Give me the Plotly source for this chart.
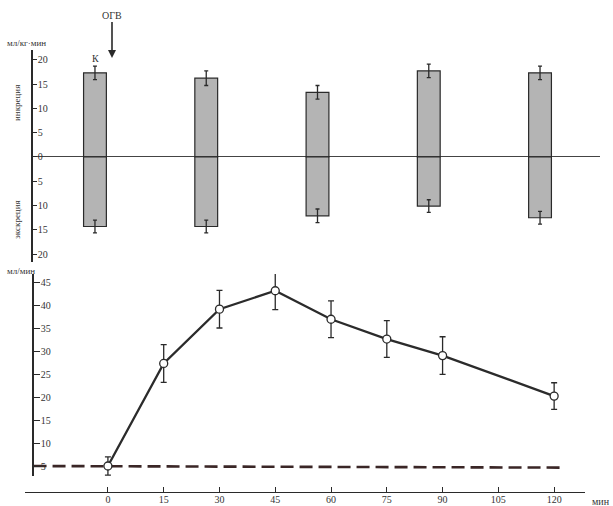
import plotly.graph_objects as go

# ---- data ----
bar_positions = [0, 1, 2, 3, 4]
incretion = [17.3, 16.2, 13.3, 17.7, 17.3]
incretion_err = [1.4, 1.5, 1.4, 1.4, 1.4]
excretion = [14.3, 14.3, 12.1, 10.1, 12.5]
excretion_err = [1.3, 1.3, 1.4, 1.3, 1.3]

top_tick_vals = [20, 15, 10, 5, 0, -5, -10, -15, -20]
top_tick_text = ["20", "15", "10", "5", "0", "5", "10", "15", "20"]

time_min = [0, 15, 30, 45, 60, 75, 90, 120]
flow = [5.0, 27.3, 39.1, 43.1, 36.9, 32.6, 29.0, 20.2]
flow_err = [2.0, 4.1, 4.1, 4.1, 4.0, 4.0, 4.1, 2.9]

baseline_x = [-20, 123]
baseline_y = [5.0, 4.65]

x_ticks = [0, 15, 30, 45, 60, 75, 90, 105, 120]
y2_ticks = [5, 10, 15, 20, 25, 30, 35, 40, 45]

# ---- geometry helpers ----
W, H = 613, 506
def px_x(p):
    return p / W
def px_y(p):
    return 1 - p / H

FONT = "Liberation Serif"
INK = "#2a2a2a"

fig = go.Figure()

# top panel bars
fig.add_trace(go.Bar(
    x=bar_positions, y=incretion, base=0, width=0.205,
    marker=dict(color="#b4b4b4", line=dict(color=INK, width=1.2)),
    error_y=dict(type="data", array=incretion_err, visible=True,
                 color=INK, thickness=1.3, width=2),
    xaxis="x", yaxis="y", showlegend=False))
fig.add_trace(go.Bar(
    x=bar_positions, y=[-v for v in excretion], base=0, width=0.205,
    marker=dict(color="#b4b4b4", line=dict(color=INK, width=1.2)),
    error_y=dict(type="data", array=excretion_err, visible=True,
                 color=INK, thickness=1.3, width=2),
    xaxis="x", yaxis="y", showlegend=False))

# bottom panel
fig.add_trace(go.Scatter(
    x=baseline_x, y=baseline_y, mode="lines",
    line=dict(color="#3a2626", width=2.6, dash="13px,6px"),
    xaxis="x2", yaxis="y2", showlegend=False))
fig.add_trace(go.Scatter(
    x=time_min, y=flow, mode="lines+markers",
    line=dict(color="#2b2b2b", width=2.3),
    marker=dict(symbol="circle", size=8, color="white",
                line=dict(color=INK, width=1.3)),
    error_y=dict(type="data", array=flow_err, visible=True,
                 color=INK, thickness=1.3, width=3),
    xaxis="x2", yaxis="y2", showlegend=False))

tickfont = dict(family=FONT, size=10, color="#333")

fig.update_layout(
    width=W, height=H,
    margin=dict(l=0, r=0, t=0, b=0),
    paper_bgcolor="white", plot_bgcolor="white",
    barmode="overlay",
    font=dict(family=FONT, color="#333"),
    xaxis=dict(domain=[px_x(33), px_x(600)], range=[-0.557, 4.539],
               visible=False, anchor="y"),
    yaxis=dict(domain=[px_y(262), px_y(50)], range=[-21.6, 22.0],
               anchor="x", showline=True, linecolor=INK, linewidth=1.5,
               ticks="inside", ticklen=4, tickcolor=INK,
               tickvals=top_tick_vals, ticktext=top_tick_text,
               ticklabelposition="inside", tickfont=tickfont,
               showgrid=False, zeroline=True, zerolinecolor="#444",
               zerolinewidth=1),
    xaxis2=dict(domain=[px_x(25), px_x(585)], range=[-22.3, 128.3],
                anchor="free", position=px_y(492),
                showline=True, linecolor=INK, linewidth=1.3,
                ticks="inside", ticklen=5, tickcolor=INK,
                tickvals=x_ticks, tickfont=tickfont,
                ticklabelstandoff=-2,
                showgrid=False, zeroline=False),
    yaxis2=dict(domain=[px_y(476), px_y(274)], range=[2.83, 46.74],
                anchor="free", position=px_x(33),
                showline=True, linecolor=INK, linewidth=1.5,
                ticks="inside", ticklen=6, tickcolor=INK,
                tickvals=y2_ticks, ticklabelposition="inside",
                tickfont=tickfont, showgrid=False, zeroline=False),
)

ann_font = dict(family=FONT, size=9, color="#333")
fig.add_annotation(xref="paper", yref="paper", x=px_x(5), y=px_y(43),
                   xanchor="left", yanchor="middle", text="мл/кг·мин",
                   showarrow=False, font=ann_font)
fig.add_annotation(xref="paper", yref="paper", x=px_x(5), y=px_y(271),
                   xanchor="left", yanchor="middle", text="мл/мин",
                   showarrow=False, font=ann_font)
fig.add_annotation(xref="paper", yref="paper", x=px_x(590), y=px_y(501),
                   xanchor="left", yanchor="middle", text="мин",
                   showarrow=False, font=dict(family=FONT, size=10, color="#333"))
fig.add_annotation(xref="paper", yref="paper", x=px_x(95), y=px_y(58),
                   xanchor="center", yanchor="middle", text="К",
                   showarrow=False, font=dict(family=FONT, size=10, color="#333"))
fig.add_annotation(xref="paper", yref="paper", x=px_x(17), y=px_y(103),
                   xanchor="center", yanchor="middle", text="инкреция",
                   textangle=-90, showarrow=False, font=ann_font)
fig.add_annotation(xref="paper", yref="paper", x=px_x(17), y=px_y(220),
                   xanchor="center", yanchor="middle", text="экскреция",
                   textangle=-90, showarrow=False, font=ann_font)
fig.add_annotation(xref="paper", yref="paper", x=px_x(112), y=px_y(58),
                   text="ОГВ", showarrow=True, arrowhead=2, arrowsize=1,
                   arrowwidth=1.6, arrowcolor=INK, ax=0, ay=-43,
                   font=dict(family=FONT, size=10, color="#333"))

fig.write_html("out.html",
               config={"displayModeBar": False},
               post_script="document.body.style.margin='0';document.body.style.padding='0';")
